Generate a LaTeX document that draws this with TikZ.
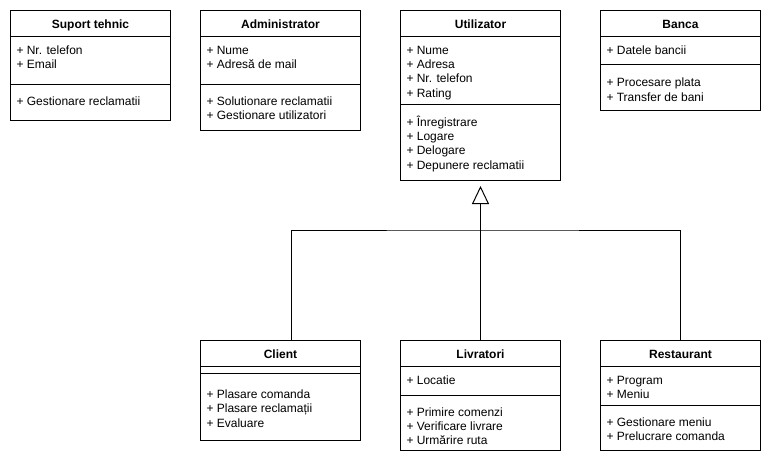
\documentclass[tikz,border=0pt]{standalone}
\usepackage{fontspec}
\setmainfont{Liberation Sans}
\usetikzlibrary{arrows.meta}
\begin{document}
\begin{tikzpicture}[x=1pt,y=-1pt,line width=1pt,
  cls/.style={draw, rectangle, anchor=north west, minimum width=160pt, inner sep=0pt},
  hdr/.style={anchor=base, inner sep=0pt, font=\fontsize{12}{14.4}\selectfont\bfseries},
  txt/.style={anchor=base west, align=left, inner sep=0pt, font=\fontsize{12}{14.4}\selectfont},
  gen/.style={-{Triangle[open,length=18pt,width=17pt]}, shorten >=5pt}]
\useasboundingbox (0,0) rectangle (772,464);
% ---------- top row ----------
\node[cls, minimum height=110pt] (sup) at (10,10) {};
\node[cls, minimum height=120pt] (adm) at (200,10) {};
\node[cls, minimum height=170pt] (uti) at (400,10) {};
\node[cls, minimum height=100pt] (ban) at (600,10) {};
% ---------- bottom row ----------
\node[cls, minimum height=100pt] (cli) at (200,340) {};
\node[cls, minimum height=110pt] (liv) at (400,340) {};
\node[cls, minimum height=110pt] (res) at (600,340) {};
% separators
\foreach \n/\d in {sup/74, adm/74, uti/94, ban/54, cli/33, liv/55, res/65}{
  \draw ([yshift=-26pt]\n.north west) -- ([yshift=-26pt]\n.north east);
  \draw ([yshift=-\d pt]\n.north west) -- ([yshift=-\d pt]\n.north east);
}
% headers
\node[hdr] (supH) at ([yshift=-18pt]sup.north) {Suport tehnic};
\node[hdr] (admH) at ([yshift=-18pt]adm.north) {Administrator};
\node[hdr] (utiH) at ([yshift=-18pt]uti.north) {Utilizator};
\node[hdr] (banH) at ([yshift=-18pt]ban.north) {Banca};
\node[hdr] (cliH) at ([yshift=-18pt]cli.north) {Client};
\node[hdr] (livH) at ([yshift=-18pt]liv.north) {Livratori};
\node[hdr] (resH) at ([yshift=-18pt]res.north) {Restaurant};
% attributes (anchor = baseline of the last line)
\node[txt] (supA) at (16,68.4) {+ Nr. telefon\\+ Email};
\node[txt] (admA) at (206,68.4) {+ Nume\\+ Adresă de mail};
\node[txt] (utiA) at (406,97.2) {+ Nume\\+ Adresa\\+ Nr. telefon\\+ Rating};
\node[txt] (banA) at (606,54) {+ Datele bancii};
\node[txt] (livA) at (406,384) {+ Locatie};
\node[txt] (resA) at (606,398.4) {+ Program\\+ Meniu};
% methods
\node[txt] (supM) at (16,105.5) {+ Gestionare reclamatii};
\node[txt] (admM) at (206,119.5) {+ Solutionare reclamatii\\+ Gestionare utilizatori};
\node[txt] (utiM) at (406,169.2) {+ Înregistrare\\+ Logare\\+ Delogare\\+ Depunere reclamatii};
\node[txt] (banM) at (606,101) {+ Procesare plata\\+ Transfer de bani};
\node[txt] (cliM) at (206,427.3) {+ Plasare comanda\\+ Plasare reclamații\\+ Evaluare};
\node[txt] (livM) at (406,444.8) {+ Primire comenzi\\+ Verificare livrare\\+ Urmărire ruta};
\node[txt] (resM) at (606,440.4) {+ Gestionare meniu\\+ Prelucrare comanda};
% generalisation
\coordinate (j) at (480,230);
\draw ([xshift=11pt]cli.north) |- (j) -| (res.north);
\draw[gen] (liv.north) -- (uti.south);
\end{tikzpicture}
\end{document}
